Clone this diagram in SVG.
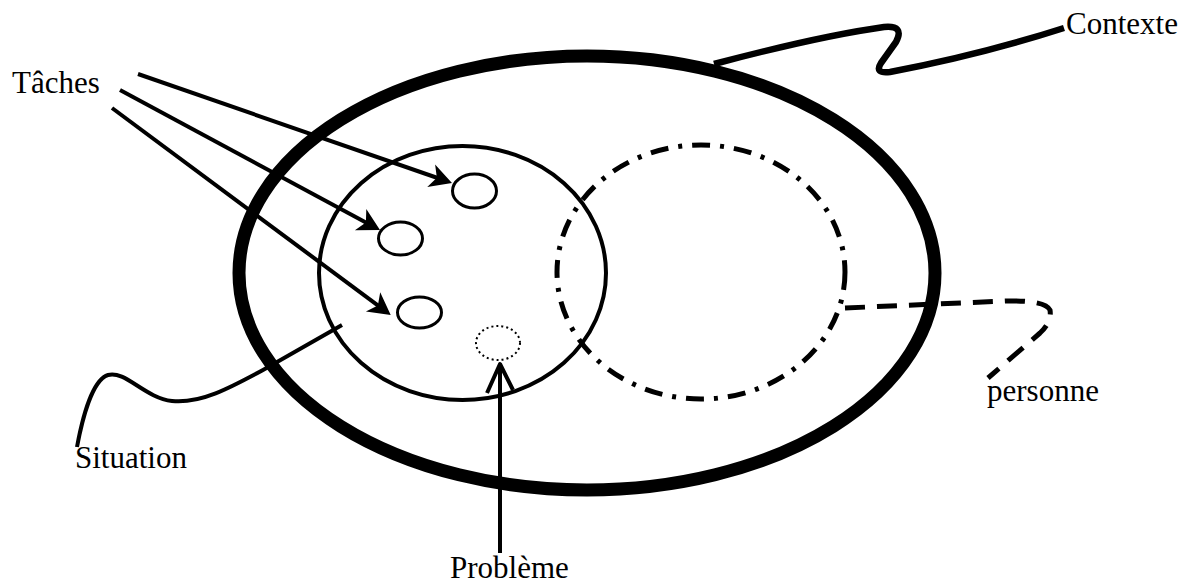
<svg xmlns="http://www.w3.org/2000/svg" width="1190" height="586" viewBox="0 0 1190 586">
<style>
text{font-family:"Liberation Serif","Times New Roman",serif;font-size:31px;fill:#000}
.ln{fill:none;stroke:#000;stroke-linecap:butt;stroke-linejoin:round}
.small{fill:#fff;stroke:#000;stroke-width:3}
</style>
<defs>
<marker id="ah" markerUnits="userSpaceOnUse" viewBox="-18 -14 26 28" markerWidth="26" markerHeight="28" refX="0" refY="0" orient="auto">
<path d="M6,0 L-16,-12 L-10,0 L-16,12 Z" fill="#000"/>
</marker>
</defs>
<rect width="1190" height="586" fill="#fff"/>
<g id="contexte">
<ellipse cx="587" cy="273" rx="348" ry="217" fill="none" stroke="#000" stroke-width="13"/>
</g>
<g id="situation">
<ellipse cx="462.5" cy="273" rx="143.5" ry="127" fill="none" stroke="#000" stroke-width="4"/>
</g>
<g id="personne">
<ellipse cx="701" cy="272" rx="144" ry="127" fill="none" stroke="#000" stroke-width="5" stroke-dasharray="18 10 4 10"/>
</g>
<g id="tache1"><ellipse class="small" cx="474.5" cy="191" rx="22" ry="17"/></g>
<g id="tache2"><ellipse class="small" cx="400.5" cy="238.5" rx="22" ry="16.5"/></g>
<g id="tache3"><ellipse class="small" cx="419.5" cy="312.5" rx="22" ry="15.5"/></g>
<g id="probleme"><ellipse cx="498" cy="343" rx="22" ry="17" fill="none" stroke="#000" stroke-width="2" stroke-dasharray="2 3"/></g>
<g id="connectors">
<line class="ln" x1="138" y1="74" x2="446.3" y2="181" stroke-width="4" marker-end="url(#ah)"/>
<line class="ln" x1="120" y1="90" x2="374.7" y2="227.2" stroke-width="4" marker-end="url(#ah)"/>
<line class="ln" x1="112" y1="108" x2="385.9" y2="311.4" stroke-width="4" marker-end="url(#ah)"/>
<line class="ln" x1="500" y1="553" x2="500" y2="364" stroke-width="4"/>
<path class="ln" d="M487,393 L500,364 L513,390" stroke-width="4"/>
<path class="ln" d="M714,64 Q820,36 884,27 Q905,25 896,42 L881,63 Q874,74 890,72 Q980,55 1064,28" stroke-width="6.5"/>
<path class="ln" d="M342,325 L263,370 C230,388 200,404 172,401 C145,398 125,370 108,375 C92,380 82,420 77,447" stroke-width="4"/>
<path class="ln" d="M845,308 L1005,301 Q1045,300 1050,310 Q1052,322 1040,333 L988,378" stroke-width="5" stroke-dasharray="20 12"/>
</g>
<g id="labels">
<text x="12" y="93">Tâches</text>
<text x="1066" y="34">Contexte</text>
<text x="75" y="468">Situation</text>
<text x="450" y="578">Problème</text>
<text x="987" y="401">personne</text>
</g>
</svg>
